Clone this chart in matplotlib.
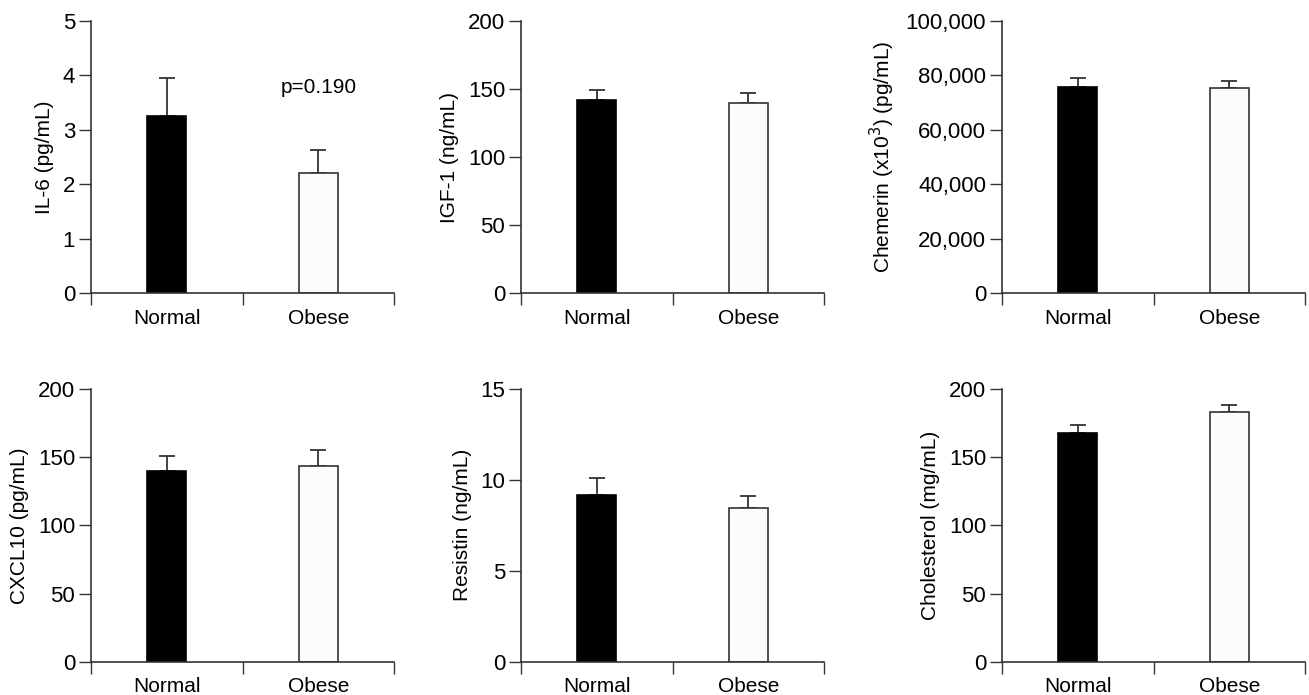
import matplotlib
matplotlib.use("Agg")
import matplotlib.pyplot as plt
from matplotlib.ticker import FuncFormatter

plt.rcParams['font.family'] = ['Liberation Sans', 'DejaVu Sans']

groups = ["Normal", "Obese"]

il6 = [3.25, 2.20]
il6_err = [0.70, 0.43]
igf1 = [141.8, 139.8]
igf1_err = [7.5, 7.2]
chemerin = [75550, 75300]
chemerin_err = [3300, 2550]
cxcl10 = [140.0, 143.5]
cxcl10_err = [10.6, 11.5]
resistin = [9.19, 8.47]
resistin_err = [0.93, 0.64]
cholesterol = [168.0, 183.1]
cholesterol_err = [5.6, 5.4]

panels = [
    (il6, il6_err, "IL-6 (pg/mL)", [0, 1, 2, 3, 4, 5], False),
    (igf1, igf1_err, "IGF-1 (ng/mL)", [0, 50, 100, 150, 200], False),
    (chemerin, chemerin_err, r"Chemerin (x10$^{3}$) (pg/mL)", [0, 20000, 40000, 60000, 80000, 100000], True),
    (cxcl10, cxcl10_err, "CXCL10 (pg/mL)", [0, 50, 100, 150, 200], False),
    (resistin, resistin_err, "Resistin (ng/mL)", [0, 5, 10, 15], False),
    (cholesterol, cholesterol_err, "Cholesterol (mg/mL)", [0, 50, 100, 150, 200], False),
]

W, H = 1309, 695
fig = plt.figure(figsize=(W / 100, H / 100), dpi=100)

lefts = [91, 521, 1002]
tops = [20.7, 389]
aw, ah = 303, 272.7
FS = 15
TFS = 16

for i, (vals, errs, ylabel, yticks, comma) in enumerate(panels):
    r, c = divmod(i, 3)
    ax = fig.add_axes([lefts[c] / W, 1 - (tops[r] + ah) / H, aw / W, ah / H])
    xs = [0.5, 1.5]
    ax.bar(xs, vals, width=0.26, color=["black", "#fcfcfc"],
           edgecolor=["black", "#333333"], linewidth=1.2, zorder=2)
    ax.errorbar(xs, vals, yerr=[[0, 0], errs], fmt="none", ecolor="#333333",
                elinewidth=1.3, capsize=6, capthick=1.3, zorder=1)
    ax.set_xlim(0, 2)
    ax.set_ylim(yticks[0], yticks[-1])
    ax.set_yticks(yticks)
    if comma:
        ax.yaxis.set_major_formatter(FuncFormatter(lambda v, p: f"{int(v):,}"))
    ax.set_xticks([0, 1, 2])
    ax.set_xticklabels([])
    ax.set_xticks(xs, minor=True)
    ax.set_xticklabels(groups, minor=True)
    ax.tick_params(axis="x", which="minor", length=0, labelsize=FS, pad=11)
    ax.tick_params(axis="x", which="major", direction="out", length=8.5, width=1, color="#333333")
    ax.tick_params(axis="y", direction="out", length=8.5, width=1, labelsize=TFS, pad=3, color="#333333")
    for s in ["top", "right"]:
        ax.spines[s].set_visible(False)
    for s in ["left", "bottom"]:
        ax.spines[s].set_linewidth(1.2)
        ax.spines[s].set_color("#333333")
    ax.set_ylabel(ylabel, fontsize=FS, labelpad=6)
    if i == 0:
        ax.text(1.5, 3.78, "p=0.190", ha="center", va="center", fontsize=FS)

fig.savefig("out.png", dpi=100)
